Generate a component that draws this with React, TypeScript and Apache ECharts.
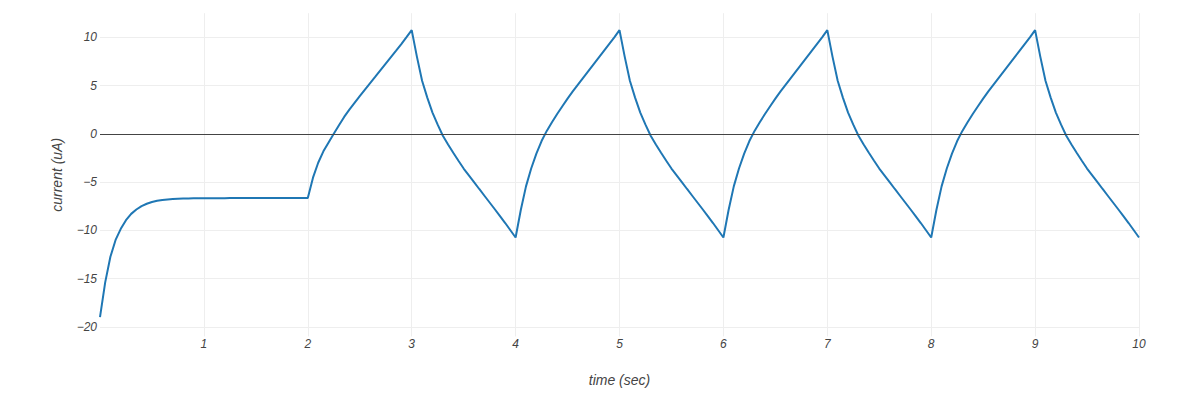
import { useEffect, useRef } from "react";
import * as echarts from "echarts";

// sample times (sec), 0.05 s apart
const time = [
  0, 0.05, 0.1, 0.15, 0.2, 0.25, 0.3, 0.35, 0.4, 0.45, 0.5, 0.55, 0.6, 0.65, 0.7, 0.75, 0.8, 0.85, 0.9, 0.95,
  1, 1.05, 1.1, 1.15, 1.2, 1.25, 1.3, 1.35, 1.4, 1.45, 1.5, 1.55, 1.6, 1.65, 1.7, 1.75, 1.8, 1.85, 1.9, 1.95,
  2, 2.05, 2.1, 2.15, 2.2, 2.25, 2.3, 2.35, 2.4, 2.45, 2.5, 2.55, 2.6, 2.65, 2.7, 2.75, 2.8, 2.85, 2.9, 2.95,
  3, 3.05, 3.1, 3.15, 3.2, 3.25, 3.3, 3.35, 3.4, 3.45, 3.5, 3.55, 3.6, 3.65, 3.7, 3.75, 3.8, 3.85, 3.9, 3.95,
  4, 4.05, 4.1, 4.15, 4.2, 4.25, 4.3, 4.35, 4.4, 4.45, 4.5, 4.55, 4.6, 4.65, 4.7, 4.75, 4.8, 4.85, 4.9, 4.95,
  5, 5.05, 5.1, 5.15, 5.2, 5.25, 5.3, 5.35, 5.4, 5.45, 5.5, 5.55, 5.6, 5.65, 5.7, 5.75, 5.8, 5.85, 5.9, 5.95,
  6, 6.05, 6.1, 6.15, 6.2, 6.25, 6.3, 6.35, 6.4, 6.45, 6.5, 6.55, 6.6, 6.65, 6.7, 6.75, 6.8, 6.85, 6.9, 6.95,
  7, 7.05, 7.1, 7.15, 7.2, 7.25, 7.3, 7.35, 7.4, 7.45, 7.5, 7.55, 7.6, 7.65, 7.7, 7.75, 7.8, 7.85, 7.9, 7.95,
  8, 8.05, 8.1, 8.15, 8.2, 8.25, 8.3, 8.35, 8.4, 8.45, 8.5, 8.55, 8.6, 8.65, 8.7, 8.75, 8.8, 8.85, 8.9, 8.95,
  9, 9.05, 9.1, 9.15, 9.2, 9.25, 9.3, 9.35, 9.4, 9.45, 9.5, 9.55, 9.6, 9.65, 9.7, 9.75, 9.8, 9.85, 9.9, 9.95,
  10,
];

// current (uA), 0 .. 2 s: settling to the hold value
const settle = [
  -19.0, -15.4, -12.75, -11.0, -9.85, -8.95, -8.3, -7.85, -7.5, -7.25, -7.07, -6.95, -6.86, -6.8, -6.76, -6.73,
  -6.71, -6.7, -6.69, -6.68, -6.67, -6.67, -6.67, -6.67, -6.67, -6.66, -6.66, -6.66, -6.66, -6.66, -6.66, -6.66,
  -6.66, -6.66, -6.66, -6.66, -6.66, -6.66, -6.66, -6.66, -6.66,
];

// 2.05 .. 3 s: first ramp up
const firstRise = [
  -4.55, -3.0, -1.82, -0.9, 0.0, 0.88, 1.75, 2.5, 3.2, 3.9, 4.58, 5.25, 5.92, 6.6, 7.28, 7.95, 8.62, 9.3, 10.02,
  10.75,
];

// one second of ramp down / ramp up (after the first peak)
const fall = [
  8.0, 5.5, 3.75, 2.2, 0.95, -0.2, -1.1, -1.97, -2.8, -3.6, -4.3, -5.0, -5.72, -6.42, -7.12, -7.82, -8.53, -9.25,
  -10.0, -10.75,
];
const rise = [
  -7.9, -5.45, -3.6, -2.05, -0.75, 0.3, 1.2, 2.05, 2.85, 3.65, 4.4, 5.1, 5.8, 6.5, 7.2, 7.9, 8.6, 9.3, 10.0, 10.75,
];

const current = [...settle, ...firstRise, ...fall, ...rise, ...fall, ...rise, ...fall, ...rise, ...fall];

const FONT = "Liberation Sans";
const TXT = "#444";

export default function App() {
  const ref = useRef<HTMLDivElement | null>(null);

  useEffect(() => {
    if (!ref.current) return;
    const chart = echarts.init(ref.current, undefined, { renderer: "svg" });
    const data = time.map((t, i) => [t, current[i]]);
    const minus = (v: number) => String(v).replace("-", "\u2212");

    chart.setOption({
      animation: false,
      grid: { left: 100, right: 41, top: 13.2, bottom: 73.6 },
      xAxis: {
        type: "value",
        min: 0,
        max: 10,
        interval: 1,
        axisLine: { show: false },
        axisTick: { show: false },
        splitLine: { show: true, showMinLine: false, lineStyle: { color: "#eee", width: 1 } },
        axisLabel: {
          showMinLabel: false,
          color: TXT,
          fontSize: 12,
          fontStyle: "italic",
          fontFamily: FONT,
          margin: 2,
        },
        name: "time (sec)",
        nameLocation: "middle",
        nameGap: 37,
        nameTextStyle: { color: TXT, fontSize: 14, fontStyle: "italic", fontFamily: FONT },
      },
      yAxis: {
        type: "value",
        min: -21,
        max: 12.5,
        splitNumber: 6,
        axisLine: { show: false },
        axisTick: { show: false },
        splitLine: {
          show: true,
          showMinLine: false,
          showMaxLine: false,
          lineStyle: { color: "#eee", width: 1 },
        },
        axisLabel: {
          showMinLabel: false,
          showMaxLabel: false,
          color: TXT,
          fontSize: 12,
          fontStyle: "italic",
          fontFamily: FONT,
          margin: 3,
          formatter: minus,
        },
        name: "current (uA)",
        nameLocation: "middle",
        nameGap: 36,
        nameTextStyle: { color: TXT, fontSize: 14, fontStyle: "italic", fontFamily: FONT },
      },
      series: [
        {
          type: "line",
          data,
          symbol: "none",
          showSymbol: false,
          lineStyle: { color: "#1f77b4", width: 2 },
          itemStyle: { color: "#1f77b4" },
          markLine: {
            silent: true,
            symbol: "none",
            label: { show: false },
            lineStyle: { color: TXT, width: 1, type: "solid" },
            data: [{ yAxis: 0 }],
          },
          z: 3,
        },
      ],
    });

    return () => chart.dispose();
  }, []);

  return (
    <div
      ref={ref}
      style={{ position: "absolute", left: 0, top: 0, width: 1180, height: 410, background: "#fff" }}
    />
  );
}
